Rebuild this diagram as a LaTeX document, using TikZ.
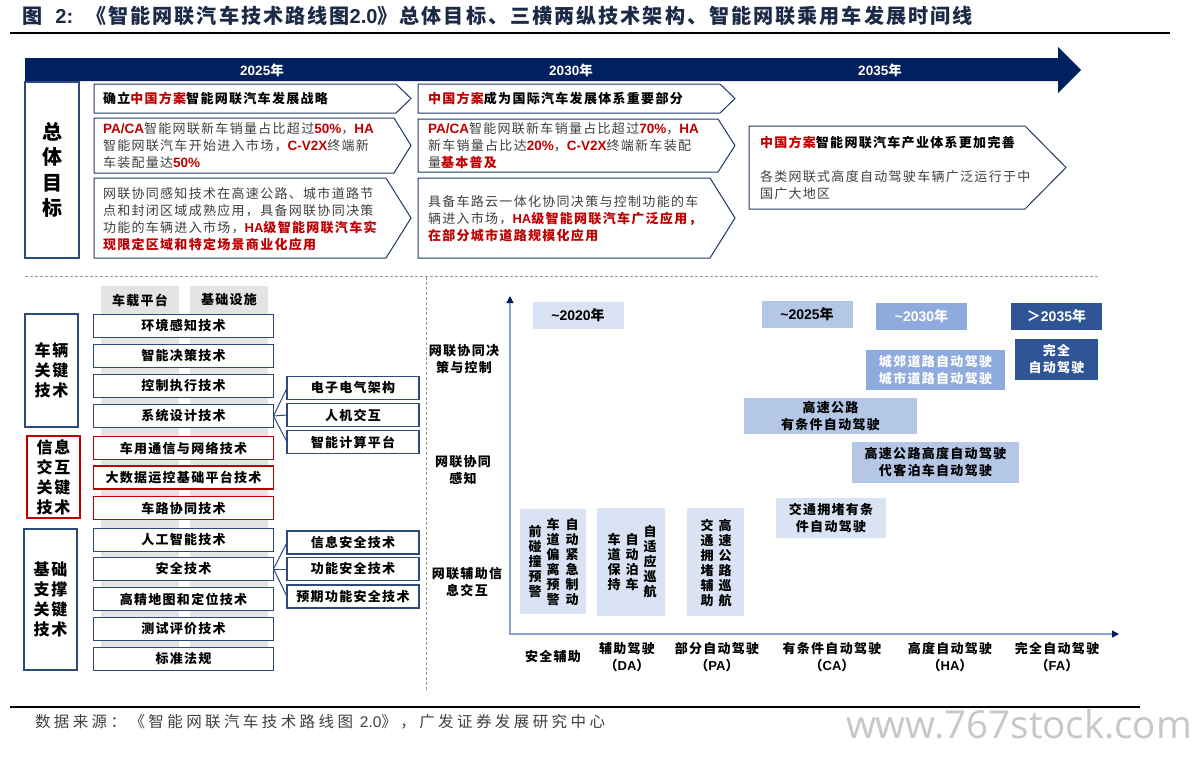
\documentclass[tikz,border=0pt]{standalone}
\usepackage{fontspec}
\setmainfont{Noto Sans CJK SC}[LetterSpace=10]
\newfontfamily\footfont{Noto Sans CJK SC}[LetterSpace=22]
\newfontfamily\wmfont{Open Sans}
\newfontfamily\latin{Liberation Sans}
\usetikzlibrary{arrows.meta}
\definecolor{navy}{HTML}{002060}
\definecolor{titlec}{HTML}{1B2A47}
\definecolor{bnavy}{HTML}{1F3864}
\definecolor{bbox}{HTML}{2E4A7D}
\definecolor{myred}{HTML}{C00000}
\definecolor{tgray}{HTML}{404040}
\definecolor{colgray}{HTML}{E4E4E4}
\definecolor{bA}{HTML}{DAE3F3}
\definecolor{bB}{HTML}{B4C7E7}
\definecolor{bC}{HTML}{8FAADC}
\definecolor{bD}{HTML}{2F5597}
\definecolor{axisc}{HTML}{8FA3C5}
\newcommand\R[1]{\textcolor{myred}{\textbf{#1}}}
\newcommand\A[1]{{\latin #1}}
\newcommand\RA[1]{\textcolor{myred}{\latin\bfseries\fontsize{13.5}{17}\selectfont #1}}
\newcommand\mychev[5]{\draw[bnavy, line width=1pt, fill=white] (#1,#2) -- ({#3-#5},#2) -- (#3,{(#2+#4)/2}) -- ({#3-#5},#4) -- (#1,#4) -- cycle;}
\begin{document}
\begin{tikzpicture}[x=1pt,y=-1pt,
  every node/.style={inner sep=0pt, outer sep=0pt},
  yearlab/.style={text=white, font=\fontsize{13.5}{15}\selectfont\bfseries},
  ctext/.style={anchor=west, align=left, text=tgray, font=\fontsize{13}{17}\selectfont},
  cbold/.style={anchor=west, align=left, text=black, font=\fontsize{13}{17}\selectfont\bfseries},
  tbox/.style={draw=bbox, line width=1.1pt, fill=white, minimum width=180, minimum height=23, font=\fontsize{13}{15}\selectfont\bfseries},
  redbox/.style={tbox, draw=myred},
  sbox/.style={tbox, minimum width=132},
  lbox/.style={draw=bbox, line width=1.1pt, minimum width=53, align=center, font=\fontsize{16}{20}\selectfont\bfseries},
  conn/.style={bbox, line width=1pt},
  ylab/.style={align=center, font=\fontsize{13}{17}\selectfont\bfseries},
  ybox/.style={minimum width=91, minimum height=27, font=\fontsize{14}{16}\selectfont\bfseries},
  cbox/.style={align=center, font=\fontsize{13}{17}\selectfont\bfseries},
  vcol/.style={align=center, font=\fontsize{13}{15}\selectfont\bfseries},
  sep/.style={black!40, line width=0.8pt, dash pattern=on 3pt off 2pt}
]
\useasboundingbox (0,0) rectangle (1196,758);
\fill[white] (0,0) rectangle (1196,758);

% title
\node[anchor=west, text=titlec, font=\fontsize{20.1}{24}\selectfont\bfseries] (title) at (22,16) {图\ \ \A{2:}\ \ 《智能网联汽车技术路线图\A{2.0}》总体目标、三横两纵技术架构、智能网联乘用车发展时间线};
\draw[line width=1.2pt] (10,33) -- (1170,33);

% timeline arrow
\fill[navy] (25,58) -- (1058,58) -- (1058,47) -- (1081,70) -- (1058,93) -- (1058,81) -- (25,81) -- cycle;
\node[yearlab] (y2025) at (262,70) {\A{2025}年};
\node[yearlab] (y2030) at (571,70) {\A{2030}年};
\node[yearlab] (y2035) at (880,70) {\A{2035}年};

% goals label
\node[draw=bbox, line width=1.1pt, minimum width=54, minimum height=176, anchor=north west] (goalL) at (25,82) {};
\node[align=center, font=\fontsize{20}{25.5}\selectfont\bfseries] (goalT) at (goalL.center) {总\\体\\目\\标};

% chevrons column 1
\mychev{94}{84}{411}{113}{15}
\mychev{94}{118}{411}{173}{17}
\mychev{94}{178}{411}{258}{25}
% column 2
\mychev{418}{84}{735}{113}{15}
\mychev{418}{119}{735}{172}{17}
\mychev{418}{178}{735}{258}{25}
% column 3
\mychev{749}{126}{1066}{209}{41}

\node[cbold] (g11) at (103,99) {确立\textcolor{myred}{中国方案}智能网联汽车发展战略};
\node[ctext] (g12) at (103,146) {\RA{PA/CA}智能网联新车销量占比超过\RA{50\%}，\RA{HA}\\智能网联汽车开始进入市场，\RA{C-V2X}终端新\\车装配量达\RA{50\%}};
\node[ctext] (g13) at (103,219) {网联协同感知技术在高速公路、城市道路节\\点和封闭区域成熟应用，具备网联协同决策\\功能的车辆进入市场，\R{\A{HA}级智能网联汽车实}\\\R{现限定区域和特定场景商业化应用}};

\node[cbold] (g21) at (428,99) {\textcolor{myred}{中国方案}成为国际汽车发展体系重要部分};
\node[ctext] (g22) at (428,146) {\RA{PA/CA}智能网联新车销量占比超过\RA{70\%}，\RA{HA}\\新车销量占比达\RA{20\%}，\RA{C-V2X}终端新车装配\\量\R{基本普及}};
\node[ctext] (g23) at (428,219) {具备车路云一体化协同决策与控制功能的车\\辆进入市场，\R{\A{HA}级智能网联汽车广泛应用，}\\\R{在部分城市道路规模化应用}};

\node[cbold] (g31) at (760,143) {\textcolor{myred}{中国方案}智能网联汽车产业体系更加完善};
\node[ctext] (g32) at (760,185) {各类网联式高度自动驾驶车辆广泛运行于中\\国广大地区};

% separators
\draw[sep] (25,276) -- (1100,276);
\draw[sep] (426,277) -- (426,690);

% bottom-left architecture
\fill[colgray] (101,286) rectangle (179,647);
\fill[colgray] (190,286) rectangle (268,647);
\node[font=\fontsize{13}{15}\selectfont\bfseries] (hA) at (140,300) {车载平台};
\node[font=\fontsize{13}{15}\selectfont\bfseries] (hB) at (229,300) {基础设施};

\node[tbox] (t1) at (183.5,326) {环境感知技术};
\node[tbox] (t2) at (183.5,356) {智能决策技术};
\node[tbox] (t3) at (183.5,386) {控制执行技术};
\node[tbox] (t4) at (183.5,416) {系统设计技术};
\node[redbox] (t5) at (183.5,448) {车用通信与网络技术};
\node[redbox] (t6) at (183.5,477.5) {大数据运控基础平台技术};
\node[redbox] (t7) at (183.5,508) {车路协同技术};
\node[tbox] (t8) at (183.5,540) {人工智能技术};
\node[tbox] (t9) at (183.5,569) {安全技术};
\node[tbox] (t10) at (183.5,599) {高精地图和定位技术};
\node[tbox] (t11) at (183.5,629) {测试评价技术};
\node[tbox] (t12) at (183.5,659) {标准法规};

\node[lbox, minimum height=113] (L1) at (51.5,370.5) {车辆\\关键\\技术};
\node[lbox, draw=myred, minimum height=82] (L2) at (53.5,477) {信息\\交互\\关键\\技术};
\node[lbox, minimum height=141] (L3) at (50.5,599.5) {基础\\支撑\\关键\\技术};

\node[sbox] (s1) at (353,388) {电子电气架构};
\node[sbox] (s2) at (353,415) {人机交互};
\node[sbox] (s3) at (353,442) {智能计算平台};
\node[sbox] (s4) at (353,542.5) {信息安全技术};
\node[sbox] (s5) at (353,569) {功能安全技术};
\node[sbox] (s6) at (353,596.5) {预期功能安全技术};

\draw[conn] (t4.east) -- (s1.west);
\draw[conn] (t4.east) -- (s2.west);
\draw[conn] (t4.east) -- (s3.west);
\draw[conn] (t9.east) -- (s4.west);
\draw[conn] (t9.east) -- (s5.west);
\draw[conn] (t9.east) -- (s6.west);

% chart axes
\coordinate (org) at (510,634);
\coordinate (ytop) at (510,296);
\coordinate (xend) at (1119,634);
\draw[axisc, line width=1.3pt, {Triangle[color=navy,length=7pt,width=7pt]}-{Triangle[color=navy,length=7pt,width=7pt]}] (ytop) -- (org) -- (xend);

\node[ylab] (yl1) at (464,359) {网联协同决\\策与控制};
\node[ylab] (yl2) at (463,470) {网联协同\\感知};
\node[ylab] (yl3) at (467,582) {网联辅助信\\息交互};

\node[ylab] (xl1) at (553,657) {安全辅助};
\node[ylab] (xl2) at (627,657) {辅助驾驶\\（\A{DA}）};
\node[ylab] (xl3) at (717,657) {部分自动驾驶\\（\A{PA}）};
\node[ylab] (xl4) at (832,657) {有条件自动驾驶\\（\A{CA}）};
\node[ylab] (xl5) at (950,657) {高度自动驾驶\\（\A{HA}）};
\node[ylab] (xl6) at (1057,657) {完全自动驾驶\\（\A{FA}）};

% year boxes
\node[ybox, fill=bA] (yr20) at (578,315) {\A{\textasciitilde 2020}年};
\node[ybox, fill=bB] (yr25) at (807,314.5) {\A{\textasciitilde 2025}年};
\node[ybox, fill=bC, text=white] (yr30) at (921.5,316) {\A{\textasciitilde 2030}年};
\node[ybox, fill=bD, text=white] (yr35) at (1056.5,316) {＞\A{2035}年};

% content boxes
\node[cbox, fill=bD, text=white, minimum width=83, minimum height=41] (c1) at (1056.5,359.5) {完全\\自动驾驶};
\node[cbox, fill=bC, text=white, minimum width=139, minimum height=40] (c2) at (935.5,370) {城郊道路自动驾驶\\城市道路自动驾驶};
\node[cbox, fill=bB, minimum width=173, minimum height=36] (c3) at (830.5,416) {高速公路\\有条件自动驾驶};
\node[cbox, fill=bB, minimum width=167, minimum height=41] (c4) at (935.5,462.5) {高速公路高度自动驾驶\\代客泊车自动驾驶};
\node[cbox, fill=bA, minimum width=110, minimum height=40] (c5) at (831,518) {交通拥堵有条\\件自动驾驶};

% vertical boxes
\node[fill=bA, minimum width=66, minimum height=105] (v1) at (553,561.5) {};
\node[fill=bA, minimum width=68, minimum height=108] (v2) at (631,562) {};
\node[fill=bA, minimum width=57, minimum height=108] (v3) at (715.5,562) {};
\node[vcol] (v1a) at (572,562) {自\\动\\紧\\急\\制\\动};
\node[vcol] (v1b) at (553,562) {车\\道\\偏\\离\\预\\警};
\node[vcol] (v1c) at (535,562) {前\\碰\\撞\\预\\警};
\node[vcol] (v2a) at (650,562) {自\\适\\应\\巡\\航};
\node[vcol] (v2b) at (632,562) {自\\动\\泊\\车};
\node[vcol] (v2c) at (614,562) {车\\道\\保\\持};
\node[vcol] (v3a) at (725,563) {高\\速\\公\\路\\巡\\航};
\node[vcol] (v3b) at (707,563) {交\\通\\拥\\堵\\辅\\助};

% footer
\draw[line width=1.2pt] (10,707) -- (1140,707);
\node[anchor=west, text=tgray, font=\footfont\fontsize{15.5}{17}\selectfont] (src) at (35,722) {数据来源：《智能网联汽车技术路线图 \A{2.0}》，广发证券发展研究中心};
\node[anchor=west, text=black!22, font=\wmfont\fontsize{38.5}{40}\selectfont] (wm) at (846,724) {www.767stock.com};
\end{tikzpicture}
\end{document}
